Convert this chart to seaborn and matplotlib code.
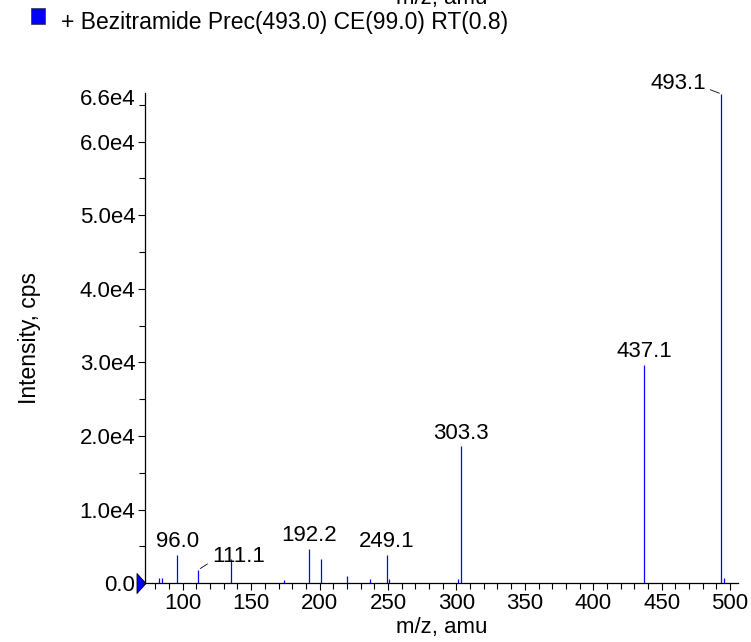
import numpy as np
import pandas as pd
import matplotlib
matplotlib.use("Agg")
import matplotlib.pyplot as plt
import seaborn as sns
from matplotlib.patches import Rectangle
from matplotlib.path import Path
from matplotlib.ticker import FixedLocator, MultipleLocator
import matplotlib.transforms as mtransforms

# Spectrum peaks (m/z, intensity in cps)
mz = [82.9, 84.6, 96.0, 111.1, 134.9, 174.3, 192.2, 201.2, 220.2, 237.1,
      249.1, 250.8, 301.2, 303.3, 437.1, 493.1, 495.8]
intensity = [700, 700, 3900, 1800, 3300, 500, 4700, 3300, 1000, 600,
             3900, 600, 600, 18600, 29700, 66500, 700]
label_mz = [96.0, 111.1, 192.2, 249.1, 303.3, 437.1, 493.1]

x_ticks = [100, 150, 200, 250, 300, 350, 400, 450, 500]
y_ticks = [0, 1e4, 2e4, 3e4, 4e4, 5e4, 6e4, 6.6e4]
y_tick_labels = ["0.0", "1.0e4", "2.0e4", "3.0e4", "4.0e4", "5.0e4", "6.0e4", "6.6e4"]

df = pd.DataFrame({"mz": mz, "intensity": intensity})

sns.set_style("ticks")
plt.rcParams["font.family"] = ["Liberation Sans", "DejaVu Sans"]
plt.rcParams["text.color"] = "black"
plt.rcParams["axes.labelcolor"] = "black"
plt.rcParams["xtick.color"] = "black"
plt.rcParams["ytick.color"] = "black"

fig = plt.figure(figsize=(7.51, 6.42), dpi=100)
ax = fig.add_axes([145 / 751, (642 - 583.3) / 642, (738.3 - 145) / 751, (583.3 - 93) / 642])

ax.vlines(df["mz"], 0, df["intensity"], color="#0000ff", lw=0.9)

ax.set_xlim(72.4, 506)
ax.set_ylim(0, 6.66e4)
sns.despine(ax=ax)

ax.xaxis.set_major_locator(FixedLocator(x_ticks))
ax.xaxis.set_minor_locator(MultipleLocator(10))
ax.yaxis.set_major_locator(FixedLocator(y_ticks))
ax.set_yticklabels(y_tick_labels)
ax.yaxis.set_minor_locator(MultipleLocator(5000))
ax.tick_params(which="major", length=5, width=0.8, labelsize=16, pad=2)
ax.tick_params(which="minor", length=4, width=0.8)
ax.yaxis.get_major_ticks()[-1].tick1line.set_visible(False)
for s in ["left", "bottom"]:
    ax.spines[s].set_color("black")
    ax.spines[s].set_linewidth(0.9)

ax.set_xlabel("m/z, amu", fontsize=16, labelpad=2)
ax.set_ylabel("Intensity, cps", fontsize=16.5, labelpad=28)

# peak labels
for m in label_mz:
    h = df.loc[df["mz"] == m, "intensity"].iloc[0]
    if m == 111.1:
        ax.annotate(f"{m:.1f}", xy=(m, h), xytext=(10, 9.5), textcoords="offset points",
                    ha="left", va="center", fontsize=16,
                    arrowprops=dict(arrowstyle="-", color="black", lw=0.6,
                                    shrinkA=1, shrinkB=2, relpos=(0, 0.3)))
    elif m == 493.1:
        ax.annotate(f"{m:.1f}", xy=(m, h), xytext=(-10.8, 7.2), textcoords="offset points",
                    ha="right", va="center", fontsize=16,
                    arrowprops=dict(arrowstyle="-", color="black", lw=0.6,
                                    shrinkA=1, shrinkB=1, relpos=(1, 0.3)))
    else:
        ax.annotate(f"{m:.1f}", xy=(m, h), xytext=(0, 2), textcoords="offset points",
                    ha="center", va="bottom", fontsize=16)

# blue triangle at the zero level on the y axis
tri = Path([(-0.45, 1), (0.45, 0), (-0.45, -1), (-0.45, 1)],
           [Path.MOVETO, Path.LINETO, Path.LINETO, Path.CLOSEPOLY])
offset = mtransforms.ScaledTranslation(-4.5 / 100, 0, fig.dpi_scale_trans)
ax.plot([72.4], [0], marker=tri, markersize=14.4, color="#0000ff",
        markeredgecolor="black", markeredgewidth=0.6, clip_on=False,
        transform=ax.transData + offset)

# header (cut-off label of a previous panel and the legend line)
fig.text(442 / 751, 1 - 4 / 642, "m/z, amu", fontsize=16, ha="center", va="baseline")
fig.patches.append(Rectangle((31 / 751, 1 - 24 / 642), 14 / 751, 16 / 642,
                             transform=fig.transFigure, facecolor="#0000ff",
                             edgecolor="#333333", lw=0.5))
fig.text(61 / 751, 1 - 29 / 642, "+ Bezitramide Prec(493.0) CE(99.0) RT(0.8)",
         fontsize=16.5, ha="left", va="baseline")

fig.savefig("out.png", dpi=100)
